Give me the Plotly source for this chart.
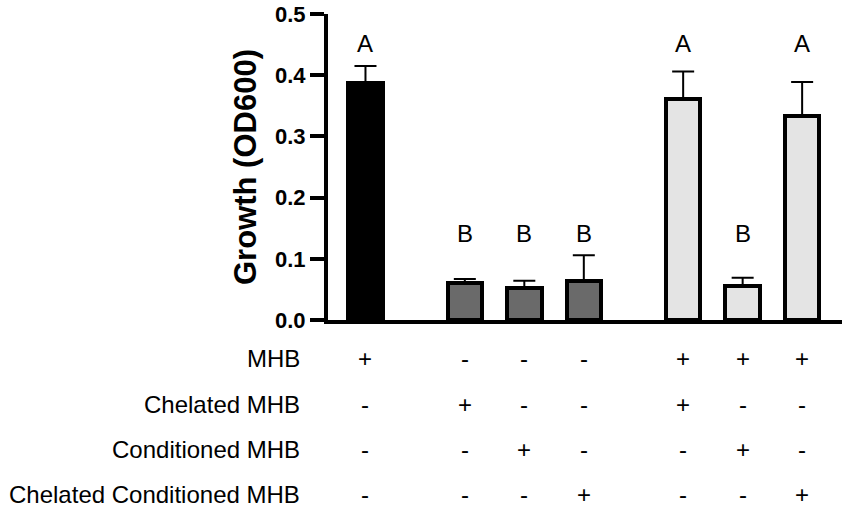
import plotly.graph_objects as go

# ---- data ----
groups = [1, 3, 3]  # number of bars in each group
means = [0.388, 0.061, 0.053, 0.064, 0.361, 0.056, 0.334]
errors = [0.027, 0.006, 0.011, 0.042, 0.045, 0.013, 0.055]
letters = ["A", "B", "B", "B", "A", "B", "A"]
row_labels = ["MHB", "Chelated MHB", "Conditioned MHB", "Chelated Conditioned MHB"]
row_signs = [
    ["+", "-", "-", "-", "+", "+", "+"],
    ["-", "+", "-", "-", "+", "-", "-"],
    ["-", "-", "+", "-", "-", "+", "-"],
    ["-", "-", "-", "+", "-", "-", "+"],
]
y_ticks = [0.0, 0.1, 0.2, 0.3, 0.4, 0.5]
y_title = "Growth (OD600)"

# ---- styling ----
group_fill = ["#000000", "#6a6a6a", "#e4e4e4"]
FONT = "Liberation Sans, Arial, sans-serif"
gap = 0.67
letter_y = {"A": 0.452, "B": 0.142}

# x positions from group structure
xs, fills = [], []
pos = 0.0
for gi, n in enumerate(groups):
    for k in range(n):
        xs.append(pos)
        fills.append(group_fill[gi])
        pos += 1.0
    pos += gap
xs_last = xs[-1]

fig = go.Figure()
fig.add_trace(go.Bar(
    x=xs, y=means, width=0.58,
    marker=dict(color=fills, line=dict(color="black", width=4)),
    error_y=dict(type="data", symmetric=False, array=errors,
                 arrayminus=[0] * len(errors), color="black",
                 thickness=2, width=11),
    showlegend=False, hoverinfo="skip",
))

# significance letters
for x, lt in zip(xs, letters):
    fig.add_annotation(x=x, y=letter_y[lt], xref="x", yref="y", text=lt,
                       showarrow=False, font=dict(family=FONT, size=24, color="black"),
                       yanchor="middle")

# condition table below axis
row_pix = [358, 404, 449, 494]
plot_top, plot_bot = 14, 320
for r, (lab, signs) in enumerate(zip(row_labels, row_signs)):
    py = (plot_bot - row_pix[r]) / (plot_bot - plot_top)
    fig.add_annotation(x=-0.05, y=py, xref="paper", yref="paper", text=lab,
                       showarrow=False, xanchor="right", yanchor="middle",
                       font=dict(family=FONT, size=24, color="black"))
    for x, s in zip(xs, signs):
        fig.add_annotation(x=x, y=py, xref="x", yref="paper", text=s,
                           showarrow=False, xanchor="center", yanchor="middle",
                           font=dict(family=FONT, size=24, color="black"))

fig.update_layout(
    width=845, height=507,
    margin=dict(l=328, r=3, t=14, b=187),
    plot_bgcolor="white", paper_bgcolor="white",
    font=dict(family=FONT, color="black"),
    bargap=0,
)
fig.update_xaxes(range=[-0.63, xs_last + 0.67], showline=True, linecolor="black",
                 linewidth=4, showticklabels=False, ticks="", showgrid=False,
                 zeroline=False)
fig.update_yaxes(range=[0, 0.5], tickvals=y_ticks, tickformat=".1f",
                 showline=True, linecolor="black", linewidth=4,
                 ticks="outside", ticklen=14, tickwidth=4, tickcolor="black",
                 tickfont=dict(family=FONT, size=22, color="black", weight="bold"),
                 title=dict(text=y_title, standoff=10,
                            font=dict(family=FONT, size=31, color="black", weight="bold")),
                 showgrid=False, zeroline=False)

fig.write_html("out.html", config={"displayModeBar": False},
               post_script="document.body.style.margin='0px';")
